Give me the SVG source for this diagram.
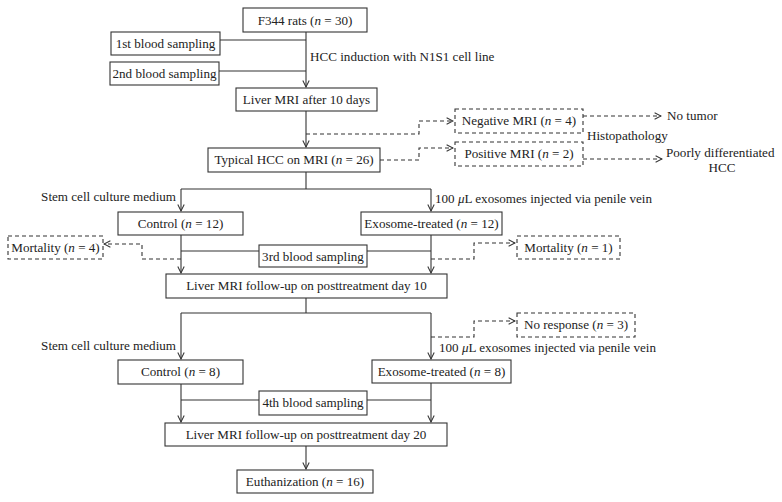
<svg xmlns="http://www.w3.org/2000/svg" width="782" height="502" viewBox="0 0 782 502">
<style>
text{font-family:"Liberation Serif","Times New Roman",serif;font-size:13.1px;fill:#222}
.c{text-anchor:middle}
.e{text-anchor:end}
.i{font-style:italic}
rect{fill:#fff;stroke:#333;stroke-width:1.1}
.d rect,rect.d{stroke-dasharray:4,3}
.ln{fill:none;stroke:#333;stroke-width:1.1}
.dl{fill:none;stroke:#333;stroke-width:1.1;stroke-dasharray:4,3}
</style>
<defs>
<marker id="a" viewBox="0 0 10 10" refX="9" refY="5" markerWidth="8" markerHeight="8" orient="auto" markerUnits="userSpaceOnUse">
<path d="M1,1 L9,5 L1,9" fill="none" stroke="#333" stroke-width="1.3"/>
</marker>
</defs>
<rect x="0" y="0" width="782" height="502" style="fill:#fff;stroke:none"/>
<g id="connectors">
<path class="ln" d="M306,32 V87" marker-end="url(#a)"/>
<path class="ln" d="M220,40 H306 M219,71 H306"/>
<path class="ln" d="M306,111 V147" marker-end="url(#a)"/>
<path class="dl" d="M306,134 H419 V121 H453" marker-end="url(#a)"/>
<path class="dl" d="M380,160 H419 V148 H453" marker-end="url(#a)"/>
<path class="dl" d="M583,116 H661" marker-end="url(#a)"/>
<path class="dl" d="M583,159 H662" marker-end="url(#a)"/>
<path class="ln" d="M306,172 V189 M181,189 H431"/>
<path class="ln" d="M181,189 V211" marker-end="url(#a)"/>
<path class="ln" d="M431,189 V211" marker-end="url(#a)"/>
<path class="ln" d="M181,235 V273" marker-end="url(#a)"/>
<path class="ln" d="M431,235 V273" marker-end="url(#a)"/>
<path class="ln" d="M181,251 H259 M367,251 H431"/>
<path class="dl" d="M181,259 H142 V244 H104" marker-end="url(#a)"/>
<path class="dl" d="M431,259 H474 V243 H515" marker-end="url(#a)"/>
<path class="ln" d="M306,298 V313 M181,313 H431"/>
<path class="ln" d="M181,313 V359" marker-end="url(#a)"/>
<path class="ln" d="M431,313 V359" marker-end="url(#a)"/>
<path class="dl" d="M431,337 H474 V321 H515" marker-end="url(#a)"/>
<path class="ln" d="M181,384 V422" marker-end="url(#a)"/>
<path class="ln" d="M431,383 V422" marker-end="url(#a)"/>
<path class="ln" d="M181,400 H259 M367,400 H431"/>
<path class="ln" d="M306,446 V469" marker-end="url(#a)"/>
</g>
<g id="labels">
<text x="310" y="61">HCC induction with N1S1 cell line</text>
<text x="667" y="120">No tumor</text>
<text x="587" y="140">Histopathology</text>
<text x="666" y="157">Poorly differentiated</text>
<text x="722" y="172" class="c">HCC</text>
<text x="176" y="201" class="e">Stem cell culture medium</text>
<text x="435" y="203">100 <tspan class="i">μ</tspan>L exosomes injected via penile vein</text>
<text x="176" y="350" class="e">Stem cell culture medium</text>
<text x="439" y="352">100 <tspan class="i">μ</tspan>L exosomes injected via penile vein</text>
</g>
<g id="n-f344"><rect x="243" y="8" width="124" height="24"/><text x="305" y="25" class="c">F344 rats (<tspan class="i">n</tspan> = 30)</text></g>
<g id="n-blood1"><rect x="111" y="32" width="109" height="23"/><text x="165.5" y="48" class="c">1st blood sampling</text></g>
<g id="n-blood2"><rect x="110" y="62" width="109" height="23"/><text x="164.5" y="78" class="c">2nd blood sampling</text></g>
<g id="n-mri1"><rect x="236" y="88" width="141" height="23"/><text x="306.5" y="104" class="c">Liver MRI after 10 days</text></g>
<g id="n-typical"><rect x="208" y="148" width="172" height="24"/><text x="294" y="164" class="c">Typical HCC on MRI (<tspan class="i">n</tspan> = 26)</text></g>
<g id="n-negative" class="d"><rect x="455" y="109" width="128" height="24"/><text x="519" y="125" class="c">Negative MRI (<tspan class="i">n</tspan> = 4)</text></g>
<g id="n-positive" class="d"><rect x="455" y="142" width="128" height="24"/><text x="519" y="158" class="c">Positive MRI (<tspan class="i">n</tspan> = 2)</text></g>
<g id="n-control12"><rect x="118" y="212" width="125" height="23"/><text x="180.5" y="228" class="c">Control (<tspan class="i">n</tspan> = 12)</text></g>
<g id="n-exo12"><rect x="361" y="212" width="141" height="23"/><text x="431.5" y="228" class="c">Exosome-treated (<tspan class="i">n</tspan> = 12)</text></g>
<g id="n-blood3"><rect x="259" y="245" width="108" height="22"/><text x="313" y="261" class="c">3rd blood sampling</text></g>
<g id="n-mort4" class="d"><rect x="8" y="236" width="95" height="23"/><text x="55.5" y="252" class="c">Mortality (<tspan class="i">n</tspan> = 4)</text></g>
<g id="n-mort1" class="d"><rect x="517" y="236" width="103" height="23"/><text x="568.5" y="252" class="c">Mortality (<tspan class="i">n</tspan> = 1)</text></g>
<g id="n-mri10"><rect x="166" y="274" width="281" height="24"/><text x="306.5" y="290" class="c">Liver MRI follow-up on posttreatment day 10</text></g>
<g id="n-noresp" class="d"><rect x="517" y="313" width="118" height="24"/><text x="576" y="329" class="c">No response (<tspan class="i">n</tspan> = 3)</text></g>
<g id="n-control8"><rect x="118" y="360" width="125" height="24"/><text x="180.5" y="376" class="c">Control (<tspan class="i">n</tspan> = 8)</text></g>
<g id="n-exo8"><rect x="372" y="360" width="139" height="23"/><text x="441.5" y="376" class="c">Exosome-treated (<tspan class="i">n</tspan> = 8)</text></g>
<g id="n-blood4"><rect x="259" y="391" width="108" height="24"/><text x="313" y="407" class="c">4th blood sampling</text></g>
<g id="n-mri20"><rect x="165" y="423" width="282" height="23"/><text x="306" y="439" class="c">Liver MRI follow-up on posttreatment day 20</text></g>
<g id="n-euth"><rect x="237" y="470" width="136" height="23"/><text x="305" y="486" class="c">Euthanization (<tspan class="i">n</tspan> = 16)</text></g>
</svg>
